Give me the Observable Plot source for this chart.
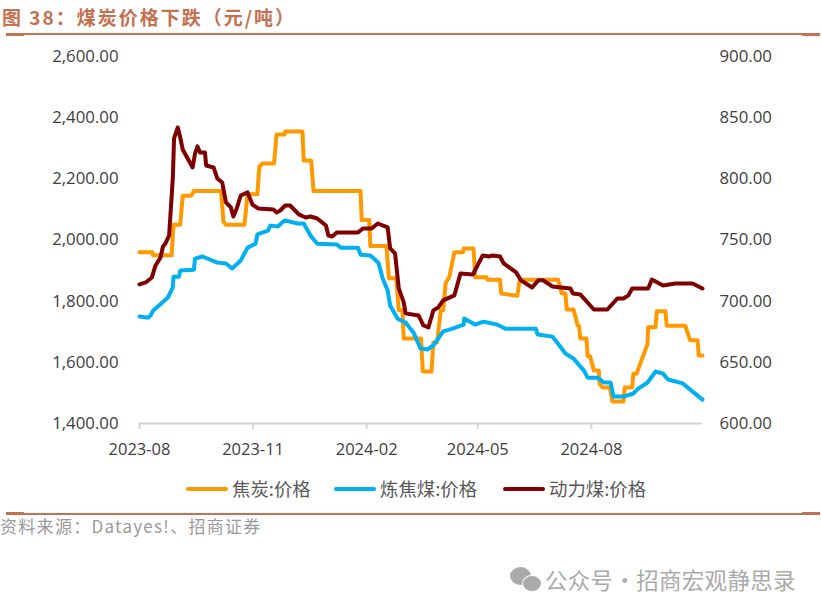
<!DOCTYPE html>
<html lang="zh">
<head>
<meta charset="utf-8">
<script src="https://cdn.jsdelivr.net/npm/d3@7"></script>
<script src="https://cdn.jsdelivr.net/npm/@observablehq/plot@0.6"></script>
<style>
html,body{margin:0;padding:0;background:#fff;width:822px;height:612px;overflow:hidden}
body{position:relative;font-family:"Noto Sans CJK SC","Noto Sans",sans-serif}
.abs{position:absolute;white-space:nowrap}
#title{left:2px;top:4px;font-size:19px;font-weight:700;color:#c5704f;letter-spacing:2px;line-height:26px}
.rule{background:#c5704f;height:2px;left:6px;width:812px}
.cap{background:#c5704f;height:3px;width:18px}
.key{height:4px;width:42px;top:487px;border-radius:2px}
.lab{top:476px;font-size:18.4px;line-height:24px;color:#595959}
#source{left:0;top:514px;font-size:17px;line-height:24px;color:#9a9a9a;letter-spacing:1.3px}
#mark{left:545px;top:564px;font-size:22.5px;line-height:30px;color:#aaa;letter-spacing:.3px}
.bub{background:#aaa;border-radius:50%}
#chart{left:0;top:40px}
#chart svg{display:block}
</style>
</head>
<body>
<div class="abs" id="title">图 38&#xFF1A;煤炭价格下跌&#xFF08;元/吨&#xFF09;</div>
<div class="abs rule" style="top:33px"></div>
<div class="abs cap" style="left:6px;top:33px"></div>
<div class="abs cap" style="left:802px;top:33px"></div>
<div class="abs" id="chart"></div>
<div class="abs key" style="left:186px;background:#ff9900"></div>
<div class="abs lab" style="left:232px">焦炭:价格</div>
<div class="abs key" style="left:334px;background:#00b0f0"></div>
<div class="abs lab" style="left:380px">炼焦煤:价格</div>
<div class="abs key" style="left:503px;background:#7f0000"></div>
<div class="abs lab" style="left:549px">动力煤:价格</div>
<div class="abs rule" style="top:513px"></div>
<div class="abs cap" style="left:6px;top:512px"></div>
<div class="abs cap" style="left:802px;top:512px"></div>
<div class="abs" id="source">资料来源&#xFF1A;Datayes!、招商证券</div>
<div class="abs bub" style="left:510px;top:567px;width:21px;height:18px"></div>
<div class="abs bub" style="left:522px;top:575px;width:18px;height:15px;border:1px solid #fff"></div>
<div class="abs" id="mark">公众号·招商宏观静思录</div>
<script>
const startDate = new Date(Date.UTC(2023, 7, 1));
const tickMonths = ["2023-08-01", "2023-11-01", "2024-02-01", "2024-05-01", "2024-08-01"];
const leftTicks = [1400, 1600, 1800, 2000, 2200, 2400, 2600];

const cokeDays = [0,10.5,11,26,27.5,33,35,42,44,66,68,70,85,87.5,95.5,97,99.6,109,111,117.5,118,132,133,139,141,179,180,186,187,200,202,208,210,213,214,228,229.5,236.5,238,241,244,246,248,251,255,262,262.5,270.5,272,281,282,292,293,306,308,339,342,345,346,351.5,355,356,357,362,363,365,368,372,372.6,375,381,383,392,393,399,400,402.6,411.5,412,418,419,426,427,442,446,452,453,456];
const cokePrice = [1960,1960,1950,1950,2050,2050,2145,2145,2160,2160,2060,2050,2050,2150,2150,2240,2250,2250,2345,2345,2355,2355,2260,2260,2160,2160,2065,2065,1980,1980,1875,1875,1770,1770,1678,1678,1570,1570,1665,1665,1770,1770,1860,1880,1960,1960,1972,1972,1878,1878,1870,1870,1825,1818,1870,1870,1825,1825,1773,1773,1720,1720,1678,1678,1620,1620,1573,1573,1530,1518,1518,1472,1472,1518,1518,1563,1563,1660,1715,1715,1767,1767,1720,1720,1672,1672,1622,1622];

const cokingDays = [0,7,9,11,23,27,27.5,32,33,44,45,51,63,70,75,82,87.5,94,95.5,104,106,112,117.5,128,133,138.5,144,160,163,177,179,187,193.5,197,201,203,209,215.5,222,227.6,233,238,246,253.5,262.5,263,272,278.6,290,296.5,321,322.4,334.5,339,345,351.5,360,363,371,376,381.5,384,392,400,404,411.5,418,424,428,440,449,456];
const cokingPrice = [1750,1746,1753,1769,1812,1845,1880,1880,1900,1903,1939,1946,1926,1923,1907,1933,1975,1988,2018,2031,2047,2044,2064,2054,2054,2015,1988,1985,1975,1975,1952,1949,1926,1874,1835,1786,1743,1730,1697,1645,1642,1655,1701,1710,1723,1743,1723,1733,1723,1710,1710,1691,1684,1661,1629,1612,1573,1550,1550,1534,1534,1488,1488,1498,1514,1534,1570,1563,1544,1531,1501,1478];

const thermalDays = [0,5,10,13,17,19,21,24,27,28,31,33,35,43,45,47,49,53,54,60,63,67,70,74,76,79,82,87.5,91.5,96,108.5,111,114,118,122,129,134.5,138.5,144,151,153,156,160,177,181,188,193,201,203,207,210,214,215.5,226,230,234,238,242,246,255,260,270,278,283,286,292,295,305,309,318,323,327,334.5,349,351,357,368,379,387,392,396,399,412,415,424,434,448,456];
const thermalPrice = [713.7,715.3,719.4,729.2,735.7,744.7,747.2,753.7,801.1,833,842,833.8,824,809.3,820.7,826.5,821.6,821.6,810.9,809.3,800.3,797,780.7,776.6,769.2,776.6,786.4,788.9,779,775.8,775,772.5,774.1,778.2,778.2,770.9,768.4,769.2,767.6,761.9,753.7,752.9,756.2,756.2,759.4,759.4,763.5,760.3,743.1,739,710.4,699,690,688.3,680.1,678.5,692.4,694.9,700.6,704.7,722.7,721.8,737.4,736.5,737.4,736.5,730.8,723.5,717,711.2,717,717,712,710.4,706.3,705.5,693.2,693.2,702.2,702.2,704.7,710.4,710.4,717.7,712.8,714.5,714.5,710.4];

const thermalToLeft = r => 1400 + (r - 600) * 4;
const leftToThermal = v => 600 + (v - 1400) / 4;
const fmt = d3.format(",.2f");
const dateOf = d => new Date(startDate.getTime() + d * 864e5);
const series = (days, vals, f = v => v) => days.map((d, i) => ({date: dateOf(d), value: f(vals[i])}));

const lineOpts = {x: "date", y: "value", strokeWidth: 4, strokeLinejoin: "round", strokeLinecap: "round"};

const chart = Plot.plot({
  width: 822,
  height: 420,
  marginTop: 16,
  marginBottom: 37,
  marginLeft: 139,
  marginRight: 120,
  style: {fontFamily: '"Open Sans",sans-serif', fontSize: "16.8px", background: "transparent", overflow: "visible"},
  x: {type: "utc", domain: [startDate, dateOf(456)]},
  y: {domain: [1400, 2600]},
  marks: [
    Plot.ruleY([1400], {stroke: "#d4d4d4", strokeWidth: 2}),
    Plot.axisX({
      ticks: tickMonths.map(d => new Date(d)),
      tickFormat: d3.utcFormat("%Y-%m"),
      tickSize: 6, tickPadding: 14, stroke: "#d4d4d4", strokeWidth: 2,
      color: "#404040", label: null, fontSize: 16.5
    }),
    Plot.axisY({anchor: "left", ticks: leftTicks, tickFormat: fmt, tickSize: 0, tickPadding: 21, color: "#404040", label: null}),
    Plot.axisY({anchor: "right", ticks: leftTicks, tickFormat: v => fmt(leftToThermal(v)), tickSize: 0, tickPadding: 17, color: "#404040", label: null}),
    Plot.line(series(cokeDays, cokePrice), {...lineOpts, stroke: "#ff9900"}),
    Plot.line(series(cokingDays, cokingPrice), {...lineOpts, stroke: "#00b0f0"}),
    Plot.line(series(thermalDays, thermalPrice, thermalToLeft), {...lineOpts, stroke: "#7f0000"})
  ]
});
document.getElementById("chart").appendChild(chart);
</script>
</body>
</html>
